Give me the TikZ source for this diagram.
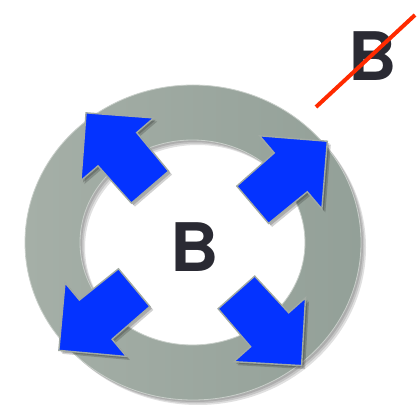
\documentclass[tikz,border=0pt]{standalone}
\usepackage{fontspec}
\setmainfont{TeX Gyre Heros}
\definecolor{RingGray}{HTML}{A5AFA7}
\definecolor{RingDark}{HTML}{93A098}
\definecolor{ArrowBlue}{HTML}{0433FF}
\definecolor{EdgeGray}{HTML}{A2AAA3}
\definecolor{DarkText}{HTML}{2A2A33}
\definecolor{StrikeRed}{HTML}{FF2A00}
\tikzset{
  ring/.style={even odd rule, left color=RingGray, right color=RingDark, draw=RingGray!60!white, line width=.8pt},
  ringshadow/.style={even odd rule, fill=black, opacity=.12},
  arrowbody/.style={fill=ArrowBlue, draw=EdgeGray, line width=1.4pt, line join=miter},
  arrowshadow/.style={fill=black, opacity=.18},
  letter/.style={text=DarkText, font=\fontsize{67}{67}\selectfont\bfseries, inner sep=0pt},
  strike/.style={draw=StrikeRed, line width=4pt}
}

\begin{document}
\begin{tikzpicture}[x=1pt,y=1pt]
\useasboundingbox (0,0) rectangle (417,404);
\foreach \s in {2,3.5,5}
  \fill[ringshadow, xshift=\s pt, yshift=-\s pt] (193,161.5) ellipse [x radius=168, y radius=157.5]
    (192.5,161.5) ellipse [x radius=112.5, y radius=102.5];
\shade[ring] (193,161.5) ellipse [x radius=168, y radius=157.5]
  (192.5,161.5) ellipse [x radius=112.5, y radius=102.5];
\foreach \cx/\cy/\ang in {290/231/40.4, 118/254/130.7, 96.5/85/219.8, 269/75/-48.3}{
  \begin{scope}[shift={(\cx,\cy)}]
    \foreach \s in {2,3.5}
      \fill[arrowshadow, xshift=\s pt, yshift=-\s pt, rotate=\ang]
        (-49,-24.5) -- (1,-25.5) -- (1,-48) -- (49,0) -- (1,48) -- (1,25.5) -- (-49,24.5) -- cycle;
    \filldraw[arrowbody, rotate=\ang]
      (-49,-24.5) -- (1,-25.5) -- (1,-48) -- (49,0) -- (1,48) -- (1,25.5) -- (-49,24.5) -- cycle;
  \end{scope}
}
\node[letter] (inner) at (195,156.5) {B};
\node[letter] (outer) at (372.5,347.5) {B};
\coordinate (strikeA) at (316,297);
\coordinate (strikeB) at (415,389);
\draw[strike] (strikeA) -- (strikeB);
\end{tikzpicture}
\end{document}
